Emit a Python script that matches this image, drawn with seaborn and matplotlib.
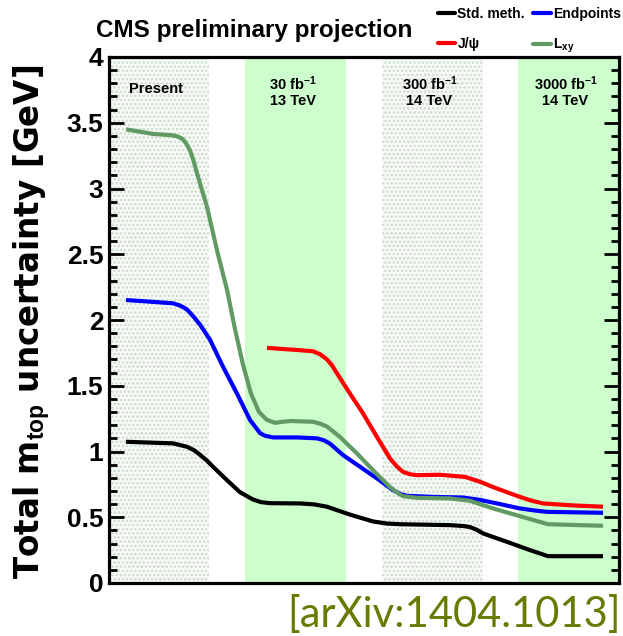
import numpy as np
import pandas as pd
import matplotlib
matplotlib.use("Agg")
import matplotlib.pyplot as plt
import seaborn as sns
from matplotlib.lines import Line2D
from matplotlib.ticker import MultipleLocator, FuncFormatter

# ---------------- data ----------------
series_names = ["Std. meth.", "Endpoints", "J/ψ", "L$_{\\mathbf{xy}}$"]

std_x = [0.17, 0.40, 0.64, 0.78, 0.85, 0.91, 0.98, 1.04, 1.18, 1.31, 1.44, 1.52, 1.61, 1.91, 2.05, 2.18, 2.41, 2.64, 2.78, 2.91, 3.41, 3.55, 3.61, 3.68, 3.74, 3.98, 4.21, 4.39, 4.94]
std_y = [1.074, 1.068, 1.062, 1.036, 1.010, 0.975, 0.930, 0.884, 0.782, 0.690, 0.635, 0.615, 0.607, 0.605, 0.598, 0.580, 0.520, 0.468, 0.452, 0.447, 0.440, 0.433, 0.425, 0.404, 0.377, 0.313, 0.250, 0.204, 0.204]

end_x = [0.17, 0.40, 0.64, 0.71, 0.78, 0.84, 0.91, 1.01, 1.14, 1.28, 1.41, 1.51, 1.56, 1.64, 1.88, 2.08, 2.15, 2.21, 2.34, 2.51, 2.68, 2.84, 2.92, 2.98, 3.24, 3.54, 3.71, 3.91, 4.11, 4.25, 4.38, 4.94]
end_y = [2.152, 2.140, 2.127, 2.110, 2.080, 2.030, 1.965, 1.850, 1.645, 1.440, 1.240, 1.140, 1.120, 1.107, 1.107, 1.100, 1.085, 1.060, 0.973, 0.884, 0.795, 0.706, 0.675, 0.663, 0.655, 0.650, 0.632, 0.600, 0.567, 0.552, 0.541, 0.534]

jpsi_x = [1.58, 1.88, 2.04, 2.11, 2.18, 2.23, 2.28, 2.41, 2.54, 2.68, 2.81, 2.88, 2.94, 3.01, 3.08, 3.31, 3.56, 3.71, 3.84, 3.98, 4.11, 4.22, 4.34, 4.64, 4.94]
jpsi_y = [1.788, 1.772, 1.762, 1.740, 1.700, 1.655, 1.594, 1.440, 1.290, 1.110, 0.947, 0.885, 0.845, 0.827, 0.820, 0.823, 0.807, 0.770, 0.730, 0.690, 0.655, 0.627, 0.605, 0.590, 0.580]

lxy_x = [0.17, 0.44, 0.63, 0.68, 0.73, 0.77, 0.81, 0.85, 0.89, 0.98, 1.08, 1.18, 1.26, 1.34, 1.42, 1.50, 1.58, 1.66, 1.73, 1.81, 2.04, 2.11, 2.18, 2.31, 2.48, 2.64, 2.81, 2.88, 2.94, 3.08, 3.41, 3.61, 3.84, 4.11, 4.39, 4.94]
lxy_y = [3.450, 3.415, 3.405, 3.397, 3.380, 3.345, 3.290, 3.200, 3.090, 2.860, 2.530, 2.230, 1.930, 1.660, 1.440, 1.300, 1.240, 1.218, 1.225, 1.232, 1.226, 1.212, 1.190, 1.110, 0.985, 0.858, 0.730, 0.688, 0.660, 0.648, 0.643, 0.625, 0.567, 0.508, 0.447, 0.435]

band_labels_top = ["Present", "30 fb$^{\\mathbf{-1}}$", "300 fb$^{\\mathbf{-1}}$", "3000 fb$^{\\mathbf{-1}}$"]
band_labels_bottom = ["", "13 TeV", "14 TeV", "14 TeV"]

# ---------------- layout / style ----------------
band_edges = [(0.0, 1.0), (1.36, 2.37), (2.73, 3.74), (4.09, 5.10)]
band_dotted = [True, False, True, False]
colors = ["#000000", "#0000ff", "#ff0000", "#619a63"]

W, H = 623, 636
sns.set_theme(style="white")
plt.rcParams["font.family"] = ["Liberation Sans", "DejaVu Sans"]
plt.rcParams["mathtext.fontset"] = "custom"
plt.rcParams["mathtext.rm"] = "Liberation Sans:bold"
plt.rcParams["mathtext.bf"] = "Liberation Sans:bold"
plt.rcParams["mathtext.it"] = "Liberation Sans:bold"
plt.rcParams["hatch.linewidth"] = 1.2
for key in ["text.color", "axes.labelcolor", "xtick.color", "ytick.color", "axes.edgecolor"]:
    plt.rcParams[key] = "black"

fig = plt.figure(figsize=(W / 100, H / 100), dpi=100)
fig.patch.set_facecolor("white")
ax = fig.add_axes([109 / W, 1 - 583 / H, 510 / W, 526 / H])
ax.set_facecolor("white")

for (a, b), dotted in zip(band_edges, band_dotted):
    if dotted:
        ax.axvspan(a, b, facecolor="#f7faf7", edgecolor="#c9dcc9", hatch="....", linewidth=0, zorder=0)
    else:
        ax.axvspan(a, b, facecolor="#ccffcc", edgecolor="none", linewidth=0, zorder=0)

frames = []
for name, xs, ys in zip(series_names, [std_x, end_x, jpsi_x, lxy_x], [std_y, end_y, jpsi_y, lxy_y]):
    frames.append(pd.DataFrame({"x": xs, "y": ys, "series": name}))
df = pd.concat(frames, ignore_index=True)

sns.lineplot(data=df, x="x", y="y", hue="series", hue_order=series_names,
             palette=dict(zip(series_names, colors)), sort=False, estimator=None,
             linewidth=3.0, legend=False, ax=ax, zorder=3)
for ln in ax.get_lines():
    ln.set_solid_joinstyle("round")
    ln.set_solid_capstyle("butt")

ax.set_xlim(0, 5.1)
ax.set_ylim(0, 4)
ax.set_xticks([])
ax.set_xlabel("")
ax.yaxis.set_major_locator(MultipleLocator(0.5))
ax.yaxis.set_minor_locator(MultipleLocator(0.1))
ax.yaxis.set_major_formatter(FuncFormatter(lambda v, p: f"{v:g}"))
ax.tick_params(axis="y", which="both", direction="in", left=True, right=True,
               color="black", labelcolor="black", width=2)
ax.tick_params(axis="y", which="major", length=11, labelsize=19, pad=4)
ax.tick_params(axis="y", which="minor", length=5.5)
for lab in ax.get_yticklabels():
    lab.set_fontweight("bold")
    lab.set_color("black")
for sp in ax.spines.values():
    sp.set_linewidth(2.3)
    sp.set_color("black")
    sp.set_zorder(5)

ax.set_ylabel("Total m$_{\\mathbf{top}}$ uncertainty [GeV]", fontsize=23.5, fontweight="bold",
              family="DejaVu Sans", color="black")
ax.yaxis.set_label_coords(-0.112, 0.497)

for (a, b), t1, t2 in zip(band_edges, band_labels_top, band_labels_bottom):
    cx = (a + b) / 2 - 0.03
    if t2:
        ax.text(cx, 3.80, t1, ha="center", va="center", fontsize=10.5, fontweight="bold", color="black", zorder=4)
        ax.text(cx, 3.665, t2, ha="center", va="center", fontsize=10.5, fontweight="bold", color="black", zorder=4)
    else:
        ax.text(cx, 3.76, t1, ha="center", va="center", fontsize=10.5, fontweight="bold", color="black", zorder=4)

fig.text(96 / W, 1 - 30 / H, "CMS preliminary projection", ha="left", va="center",
         fontsize=17.5, fontweight="bold", color="black")

handles = [Line2D([], [], color=c, lw=3) for c in colors]
leg_order = [0, 2, 1, 3]
leg = fig.legend([handles[i] for i in leg_order], [series_names[i] for i in leg_order], ncol=2,
                 loc="upper left", bbox_to_anchor=(438 / W, 1 - 7 / H), frameon=False,
                 prop={"size": 10, "weight": "bold"}, handlelength=1.25, handletextpad=0.15,
                 columnspacing=0.6, labelspacing=1.15, borderpad=0, borderaxespad=0)
for t in leg.get_texts():
    t.set_color("black")

fig.text(621 / W, 1 - 627 / H, "[arXiv:1404.1013]", ha="right", va="baseline",
         fontsize=30, family=["Lato", "DejaVu Sans"], fontweight="normal", color="#6a7a00")

fig.savefig("out.png", dpi=100, facecolor="white")
